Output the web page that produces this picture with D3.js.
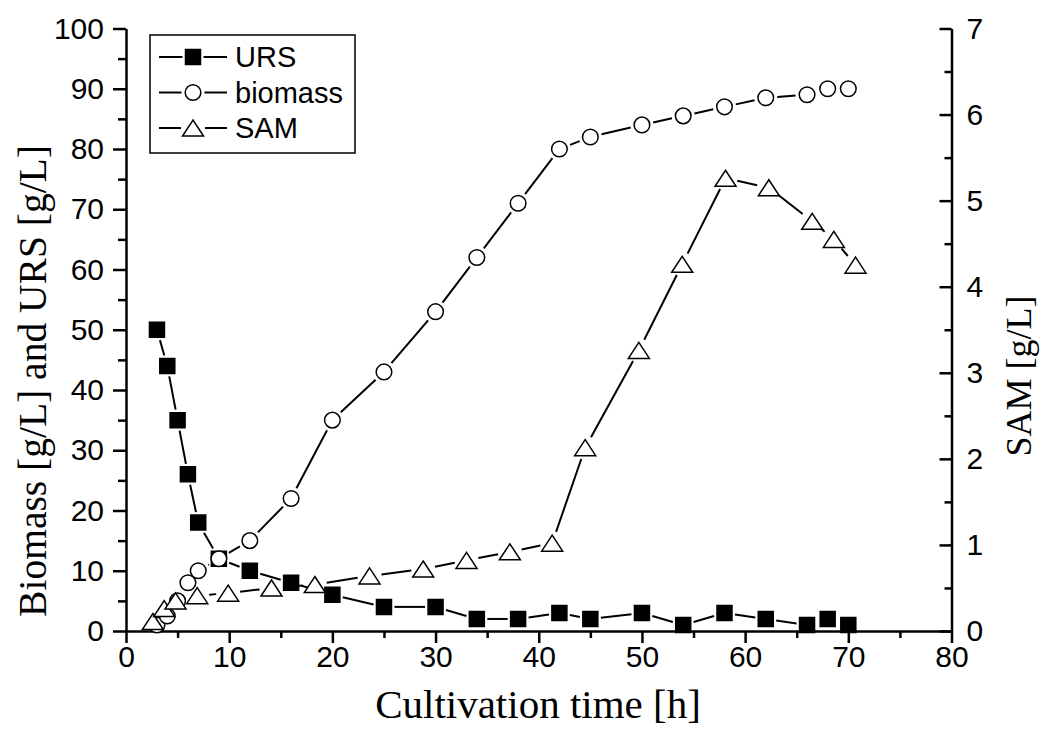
<!DOCTYPE html>
<html>
<head>
<meta charset="utf-8">
<script src="https://cdn.jsdelivr.net/npm/d3@7"></script>
<style>
  body { margin: 0; background: #fff; }
  svg { display: block; }
</style>
</head>
<body>
<svg id="chart" width="1041" height="731"></svg>
<script>
// cultivation time [h] and values
const timeURS = [3, 4, 5, 6, 7, 9, 12, 16, 20, 25, 30, 34, 38, 42, 45, 50, 54, 58, 62, 66, 68, 70];
const ursValues = [50, 44, 35, 26, 18, 12, 10, 8, 6, 4, 4, 2, 2, 3, 2, 3, 1, 3, 2, 1, 2, 1];

const timeBiomass = [3, 4, 5, 6, 7, 9, 12, 16, 20, 25, 30, 34, 38, 42, 45, 50, 54, 58, 62, 66, 68, 70];
const biomassValues = [1, 2.5, 5, 8, 10, 12, 15, 22, 35, 43, 53, 62, 71, 80, 82, 84, 85.5, 87, 88.5, 89, 90, 90];

const timeSAM = [2.6, 3.7, 4.8, 6.9, 9.9, 14.1, 18.3, 23.6, 28.8, 33, 37.2, 41.3, 44.5, 49.7, 53.9, 58.1, 62.3, 66.5, 68.6, 70.7];
const samValues = [0.11, 0.26, 0.35, 0.41, 0.44, 0.5, 0.54, 0.64, 0.72, 0.82, 0.92, 1.02, 2.13, 3.26, 4.26, 5.26, 5.15, 4.76, 4.55, 4.25];

// tick labels
const xTicks = [0, 10, 20, 30, 40, 50, 60, 70, 80];
const leftTicks = [0, 10, 20, 30, 40, 50, 60, 70, 80, 90, 100];
const rightTicks = [0, 1, 2, 3, 4, 5, 6, 7];
const legendNames = ['URS', 'biomass', 'SAM'];

const svg = d3.select('#chart');

const x = d3.scaleLinear().domain([0, 80]).range([126, 951.5]);
const yLeft = d3.scaleLinear().domain([0, 100]).range([631, 28.5]);
const yRight = d3.scaleLinear().domain([0, 7]).range([631, 28.5]);

const sans = '"Liberation Sans", Arial, sans-serif';
const serif = '"Liberation Serif", "Times New Roman", serif';
const intFormat = d3.format('d');

//minor ticks halfway between the labelled ones
function halves(ticks) {
  return ticks.slice(0, -1).map((t, i) => (t + ticks[i + 1]) / 2);
}

function styleAxis(g) {
  g.select('.domain').attr('stroke-width', 2.5);
  g.selectAll('.tick line').attr('stroke-width', 2.5);
  g.selectAll('.tick text').attr('font-family', sans).attr('font-size', 30).attr('fill', '#000');
}

// left axis
svg.append('g').attr('transform', 'translate(126,0)')
  .call(d3.axisLeft(yLeft).tickValues(leftTicks).tickFormat(intFormat).tickSize(13).tickSizeOuter(0).tickPadding(9))
  .call(styleAxis);
svg.append('g').attr('transform', 'translate(126,0)')
  .call(d3.axisLeft(yLeft).tickValues(halves(leftTicks)).tickSize(8).tickFormat(''))
  .call(g => g.select('.domain').remove())
  .call(styleAxis);

// bottom axis
svg.append('g').attr('transform', 'translate(0,631)')
  .call(d3.axisBottom(x).tickValues(xTicks).tickFormat(intFormat).tickSize(12).tickSizeOuter(0).tickPadding(3))
  .call(styleAxis);
svg.append('g').attr('transform', 'translate(0,631)')
  .call(d3.axisBottom(x).tickValues(halves(xTicks)).tickSize(7).tickFormat(''))
  .call(g => g.select('.domain').remove())
  .call(styleAxis);

// right axis, ticks point inward
svg.append('g').attr('transform', 'translate(951.5,0)')
  .call(d3.axisRight(yRight).tickValues(rightTicks).tickFormat(intFormat).tickSize(-12).tickSizeOuter(0).tickPadding(15))
  .call(styleAxis);
svg.append('g').attr('transform', 'translate(951.5,0)')
  .call(d3.axisRight(yRight).tickValues(halves(rightTicks)).tickSize(-7).tickFormat(''))
  .call(g => g.select('.domain').remove())
  .call(styleAxis);

// axis titles
svg.append('text')
  .attr('x', 538).attr('y', 718)
  .attr('text-anchor', 'middle')
  .attr('font-family', serif).attr('font-size', 41)
  .text('Cultivation time [h]');
svg.append('text')
  .attr('transform', 'translate(46,381) rotate(-90)')
  .attr('text-anchor', 'middle')
  .attr('font-family', serif).attr('font-size', 39.5)
  .text('Biomass [g/L] and URS [g/L]');
svg.append('text')
  .attr('transform', 'translate(1031,376) rotate(-90)')
  .attr('text-anchor', 'middle')
  .attr('font-family', serif).attr('font-size', 36)
  .text('SAM [g/L]');

// marker shapes
const markers = {
  square: {
    path: 'M-7.5,-7.5H7.5V7.5H-7.5Z', fill: '#000',
    edge: (ux, uy) => 7.5 / Math.max(Math.abs(ux), Math.abs(uy))
  },
  circle: {
    path: d3.symbol(d3.symbolCircle, Math.PI * 7.8 * 7.8)(), fill: '#fff',
    edge: () => 8.5
  },
  triangle: {
    path: 'M0,-8L10.5,8L-10.5,8Z', fill: '#fff',
    edge: () => 9
  }
};

// lines stop short of each symbol, as in the original
function gappedSegments(pts, marker) {
  const segs = [];
  for (let i = 0; i < pts.length - 1; i++) {
    const [x0, y0] = pts[i], [x1, y1] = pts[i + 1];
    const len = Math.hypot(x1 - x0, y1 - y0);
    const ux = (x1 - x0) / len, uy = (y1 - y0) / len;
    const cut = marker.edge(ux, uy) + 3;
    if (len > 2 * cut) {
      segs.push([x0 + ux * cut, y0 + uy * cut, x1 - ux * cut, y1 - uy * cut]);
    }
  }
  return segs;
}

function drawSeries(times, values, yScale, marker) {
  const pts = times.map((t, i) => [x(t), yScale(values[i])]);
  const g = svg.append('g');
  g.selectAll('line')
    .data(gappedSegments(pts, marker))
    .enter().append('line')
    .attr('x1', d => d[0]).attr('y1', d => d[1])
    .attr('x2', d => d[2]).attr('y2', d => d[3])
    .attr('stroke', '#000').attr('stroke-width', 2);
  g.selectAll('path')
    .data(pts)
    .enter().append('path')
    .attr('transform', d => 'translate(' + d[0] + ',' + d[1] + ')')
    .attr('d', marker.path)
    .attr('fill', marker.fill)
    .attr('stroke', '#000').attr('stroke-width', 1.5);
}

drawSeries(timeURS, ursValues, yLeft, markers.square);
drawSeries(timeBiomass, biomassValues, yLeft, markers.circle);
drawSeries(timeSAM, samValues, yRight, markers.triangle);

// legend
const legendMarkers = [markers.square, markers.circle, markers.triangle];
const legend = svg.append('g');
legend.append('rect')
  .attr('x', 150).attr('y', 35).attr('width', 205).attr('height', 118)
  .attr('fill', '#fff').attr('stroke', '#000').attr('stroke-width', 1.5);

const rows = legend.selectAll('g.row')
  .data(legendNames)
  .enter().append('g')
  .attr('class', 'row')
  .attr('transform', (d, i) => 'translate(0,' + (57 + i * 35.5) + ')');

rows.each(function(d, i) {
  const row = d3.select(this);
  const m = legendMarkers[i];
  const e = m.edge(1, 0) + 3;
  row.append('line').attr('x1', 159).attr('x2', 193 - e).attr('y1', 0).attr('y2', 0)
    .attr('stroke', '#000').attr('stroke-width', 2);
  row.append('line').attr('x1', 193 + e).attr('x2', 227).attr('y1', 0).attr('y2', 0)
    .attr('stroke', '#000').attr('stroke-width', 2);
  row.append('path').attr('transform', 'translate(193,0)').attr('d', m.path)
    .attr('fill', m.fill).attr('stroke', '#000').attr('stroke-width', 1.5);
  row.append('text').attr('x', 235).attr('dy', '0.36em')
    .attr('font-family', sans).attr('font-size', 29)
    .text(d);
});
</script>
</body>
</html>
